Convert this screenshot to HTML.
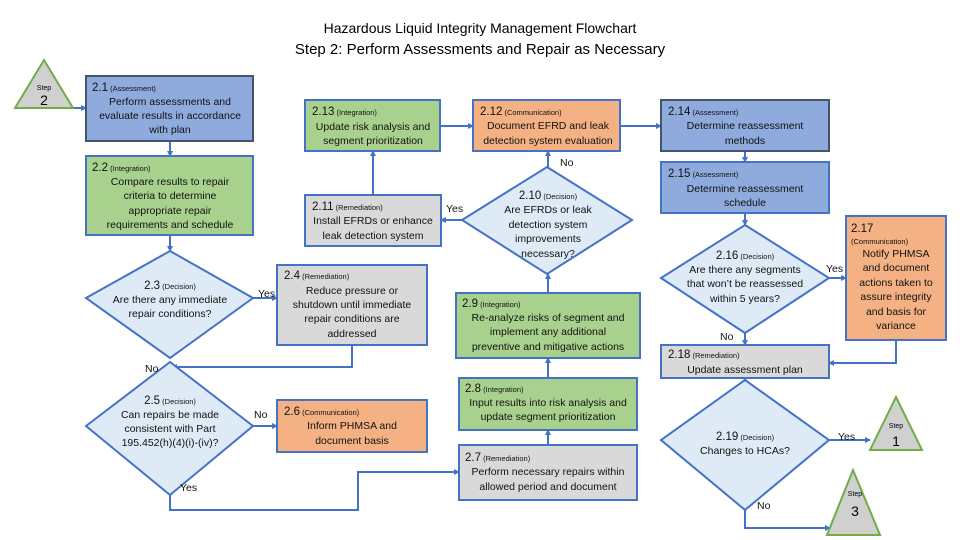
<!DOCTYPE html>
<html><head><meta charset="utf-8"><style>
body{margin:0;background:#fff}
svg{display:block;font-family:"Liberation Sans",sans-serif}
.t{font-size:10.5px;fill:#111}
.s{font-size:7.5px}
.n{font-size:11.5px}
.l{fill:none;stroke:#4472c4;stroke-width:2}
</style></head><body>
<svg width="960" height="540" viewBox="0 0 960 540">
<defs><marker id="a" markerWidth="6" markerHeight="6" refX="5" refY="3" orient="auto" markerUnits="userSpaceOnUse"><path d="M0,0L6,3L0,6z" fill="#4472c4"/></marker></defs>
<text x="480" y="33" text-anchor="middle" font-size="14">Hazardous Liquid Integrity Management Flowchart</text>
<text x="480" y="54" text-anchor="middle" font-size="15">Step 2: Perform Assessments and Repair as Necessary</text>

<!-- connectors -->
<g class="l" marker-end="url(#a)">
<path d="M73,108H86"/>
<path d="M170,141V156"/>
<path d="M170,235V251"/>
<path d="M253,298H277"/>
<path d="M352,345V367H172"/>
<path d="M253,426H277"/>
<path d="M170,495V510H358V472H459"/>
<path d="M548,445V430"/>
<path d="M548,378V358"/>
<path d="M548,293V274"/>
<path d="M548,167V151"/>
<path d="M462,220H441"/>
<path d="M373,195V151"/>
<path d="M440,126H473"/>
<path d="M620,126H661"/>
<path d="M745,151V162"/>
<path d="M745,213V225"/>
<path d="M829,278H846"/>
<path d="M745,333V345"/>
<path d="M896,340V363H829"/>
<path d="M745,378V381"/>
<path d="M829,440H870"/>
<path d="M745,510V528H830"/>
</g>

<!-- triangles -->
<g stroke="#70ad47" stroke-width="2" fill="#d0d0d0">
<path d="M44,60L73,108H15z"/>
<path d="M896,397L922,450H870z"/>
<path d="M853,470L880,535H827z"/>
</g>
<text x="44" y="90" text-anchor="middle" font-size="7">Step</text>
<text x="44" y="105" text-anchor="middle" font-size="14">2</text>
<text x="896" y="428" text-anchor="middle" font-size="7">Step</text>
<text x="896" y="446" text-anchor="middle" font-size="14">1</text>
<text x="855" y="496" text-anchor="middle" font-size="7">Step</text>
<text x="855" y="516" text-anchor="middle" font-size="14">3</text>

<!-- boxes -->
<g stroke-width="2">
<rect x="86" y="76" width="167" height="65" fill="#8faadc" stroke="#44546a"/>
<rect x="86" y="156" width="167" height="79" fill="#a9d18e" stroke="#4472c4"/>
<rect x="277" y="265" width="150" height="80" fill="#d9d9d9" stroke="#4472c4"/>
<rect x="305" y="100" width="135" height="51" fill="#a9d18e" stroke="#4472c4"/>
<rect x="473" y="100" width="147" height="51" fill="#f4b183" stroke="#4472c4"/>
<rect x="305" y="195" width="136" height="51" fill="#d9d9d9" stroke="#4472c4"/>
<rect x="456" y="293" width="184" height="65" fill="#a9d18e" stroke="#4472c4"/>
<rect x="661" y="100" width="168" height="51" fill="#8faadc" stroke="#44546a"/>
<rect x="661" y="162" width="168" height="51" fill="#8faadc" stroke="#4472c4"/>
<rect x="846" y="216" width="100" height="124" fill="#f4b183" stroke="#4472c4"/>
<rect x="661" y="345" width="168" height="33" fill="#d9d9d9" stroke="#4472c4"/>
<rect x="277" y="400" width="150" height="52" fill="#f4b183" stroke="#4472c4"/>
<rect x="459" y="378" width="178" height="52" fill="#a9d18e" stroke="#4472c4"/>
<rect x="459" y="445" width="178" height="55" fill="#d9d9d9" stroke="#4472c4"/>
</g>
<g fill="#deebf7" stroke="#4472c4" stroke-width="2">
<path d="M170,251L253,298L170,358L86,298z"/>
<path d="M547,167L632,220L547,274L462,220z"/>
<path d="M745,225L829,278L745,333L661,278z"/>
<path d="M745,380L829,440L745,510L661,440z"/>
<path d="M170,362L253,426L170,495L86,426z"/>
</g>

<g class="t">
<text x="92" y="91"><tspan class="n">2.1</tspan><tspan class="s"> (Assessment)</tspan></text>
<text text-anchor="middle"><tspan x="170" y="105">Perform assessments and</tspan><tspan x="170" y="119">evaluate results in accordance</tspan><tspan x="170" y="133">with plan</tspan></text>
<text x="92" y="171"><tspan class="n">2.2</tspan><tspan class="s"> (Integration)</tspan></text>
<text text-anchor="middle"><tspan x="170" y="185">Compare results to repair</tspan><tspan x="170" y="199">criteria to determine</tspan><tspan x="170" y="214">appropriate repair</tspan><tspan x="170" y="228">requirements  and schedule</tspan></text>
<text text-anchor="middle"><tspan x="170" y="289"><tspan class="n">2.3</tspan><tspan class="s"> (Decision)</tspan></tspan><tspan x="170" y="303">Are there any immediate</tspan><tspan x="170" y="317">repair conditions?</tspan></text>
<text x="258" y="297">Yes</text>
<text x="284" y="279"><tspan class="n">2.4</tspan><tspan class="s"> (Remediation)</tspan></text>
<text text-anchor="middle"><tspan x="352" y="294">Reduce pressure or</tspan><tspan x="352" y="308">shutdown until immediate</tspan><tspan x="352" y="322">repair conditions are</tspan><tspan x="352" y="337">addressed</tspan></text>
<text x="312" y="115"><tspan class="n">2.13</tspan><tspan class="s"> (Integration)</tspan></text>
<text text-anchor="middle"><tspan x="373" y="130">Update risk analysis and</tspan><tspan x="373" y="144">segment prioritization</tspan></text>
<text x="480" y="115"><tspan class="n">2.12</tspan><tspan class="s"> (Communication)</tspan></text>
<text text-anchor="middle"><tspan x="548" y="129">Document EFRD and leak</tspan><tspan x="548" y="144">detection system evaluation</tspan></text>
<text x="312" y="210"><tspan class="n">2.11</tspan><tspan class="s"> (Remediation)</tspan></text>
<text text-anchor="middle"><tspan x="373" y="224">Install EFRDs or enhance</tspan><tspan x="373" y="239">leak detection system</tspan></text>
<text x="446" y="212">Yes</text>
<text x="560" y="166">No</text>
<text text-anchor="middle"><tspan x="548" y="199"><tspan class="n">2.10</tspan><tspan class="s"> (Decision)</tspan></tspan><tspan x="548" y="213">Are EFRDs or leak</tspan><tspan x="548" y="228">detection system</tspan><tspan x="548" y="242">improvements</tspan><tspan x="548" y="257">necessary?</tspan></text>
<text x="462" y="307"><tspan class="n">2.9</tspan><tspan class="s"> (Integration)</tspan></text>
<text text-anchor="middle"><tspan x="548" y="321">Re-analyze risks of segment and</tspan><tspan x="548" y="335">implement any additional</tspan><tspan x="548" y="350">preventive and mitigative actions</tspan></text>
<text x="668" y="115"><tspan class="n">2.14</tspan><tspan class="s"> (Assessment)</tspan></text>
<text text-anchor="middle"><tspan x="745" y="129">Determine reassessment</tspan><tspan x="745" y="144">methods</tspan></text>
<text x="668" y="177"><tspan class="n">2.15</tspan><tspan class="s"> (Assessment)</tspan></text>
<text text-anchor="middle"><tspan x="745" y="192">Determine reassessment</tspan><tspan x="745" y="206">schedule</tspan></text>
<text text-anchor="middle"><tspan x="745" y="259"><tspan class="n">2.16</tspan><tspan class="s"> (Decision)</tspan></tspan><tspan x="745" y="273">Are there any segments</tspan><tspan x="745" y="287">that won’t be reassessed</tspan><tspan x="745" y="302">within 5 years?</tspan></text>
<text x="826" y="272">Yes</text>
<text x="720" y="340">No</text>
<text x="851" y="232" class="n">2.17</text>
<text x="851" y="244" class="s">(Communication)</text>
<text text-anchor="middle"><tspan x="896" y="257">Notify PHMSA</tspan><tspan x="896" y="271">and document</tspan><tspan x="896" y="286">actions taken to</tspan><tspan x="896" y="300">assure integrity</tspan><tspan x="896" y="315">and basis for</tspan><tspan x="896" y="329">variance</tspan></text>
<text x="668" y="358"><tspan class="n">2.18</tspan><tspan class="s"> (Remediation)</tspan></text>
<text x="745" y="373" text-anchor="middle">Update assessment plan</text>
<text text-anchor="middle"><tspan x="745" y="440"><tspan class="n">2.19</tspan><tspan class="s"> (Decision)</tspan></tspan><tspan x="745" y="454">Changes to HCAs?</tspan></text>
<text x="838" y="440">Yes</text>
<text x="757" y="509">No</text>
<text x="145" y="372">No</text>
<text text-anchor="middle"><tspan x="170" y="404"><tspan class="n">2.5</tspan><tspan class="s"> (Decision)</tspan></tspan><tspan x="170" y="418">Can repairs be made</tspan><tspan x="170" y="432">consistent with Part</tspan><tspan x="170" y="446">195.452(h)(4)(i)-(iv)?</tspan></text>
<text x="254" y="418">No</text>
<text x="180" y="491">Yes</text>
<text x="284" y="415"><tspan class="n">2.6</tspan><tspan class="s"> (Communication)</tspan></text>
<text text-anchor="middle"><tspan x="352" y="429">Inform PHMSA and</tspan><tspan x="352" y="444">document basis</tspan></text>
<text x="465" y="392"><tspan class="n">2.8</tspan><tspan class="s"> (Integration)</tspan></text>
<text text-anchor="middle"><tspan x="548" y="406">Input results into risk analysis and</tspan><tspan x="548" y="420">update segment prioritization</tspan></text>
<text x="465" y="461"><tspan class="n">2.7</tspan><tspan class="s"> (Remediation)</tspan></text>
<text text-anchor="middle"><tspan x="548" y="475">Perform necessary repairs within</tspan><tspan x="548" y="490">allowed period and document</tspan></text>
</g>
</svg>
</body></html>
